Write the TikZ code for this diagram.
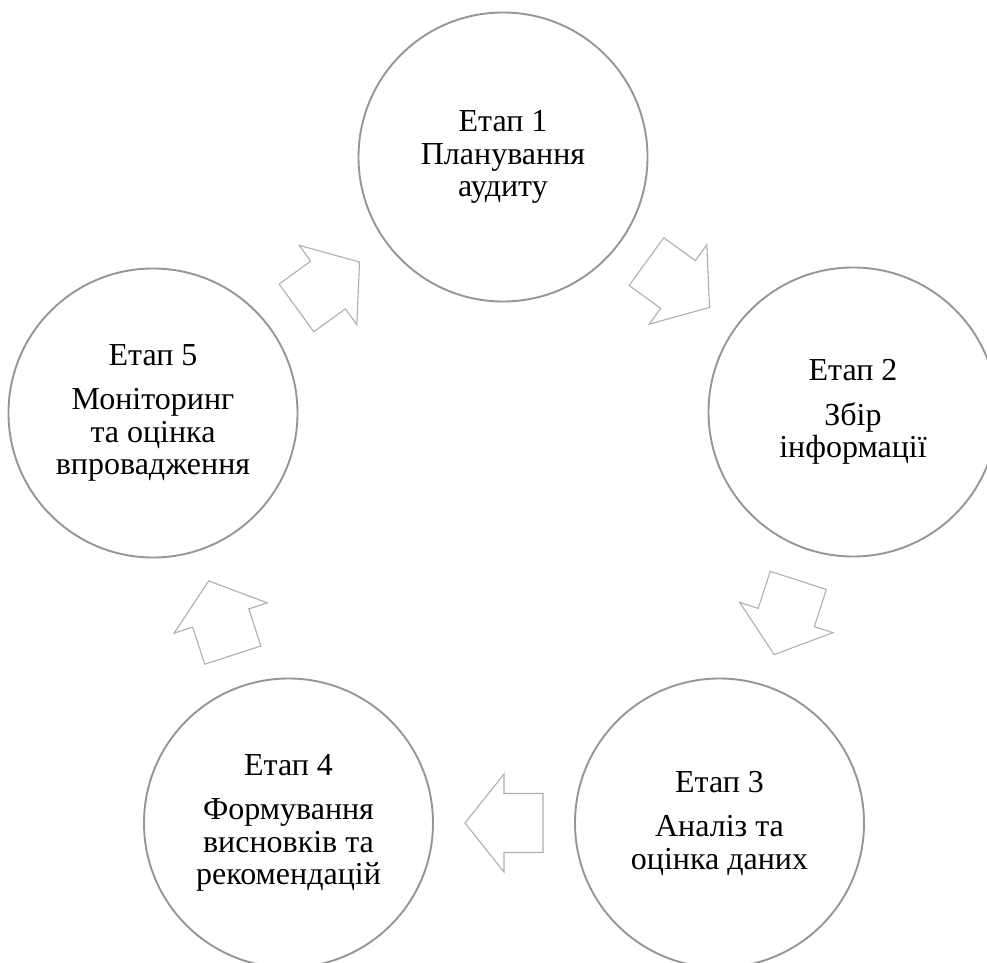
\documentclass[tikz,border=0pt]{standalone}
\usepackage{fontspec}
\setmainfont{Liberation Serif}
\usetikzlibrary{calc}
\definecolor{circgray}{RGB}{150,150,150}
\definecolor{arrgray}{RGB}{175,175,175}
\tikzset{
  stage/.style={circle, draw=circgray, line width=1.9pt, minimum size=289pt, inner sep=0pt,
    align=center, font=\fontsize{32}{32.5}\selectfont, text=black},
  cyclearrow/.style={draw=arrgray, line width=1.1pt, line join=miter, fill=white}
}
\newcommand{\blockarrow}[2]{%
  \begin{scope}[shift={(#1)}, rotate=#2]
    \draw[cyclearrow] (-39,29.5) -- (0,29.5) -- (0,49) -- (39,0) -- (0,-49) -- (0,-29.5) -- (-39,-29.5) -- cycle;
  \end{scope}}
\begin{document}
\begin{tikzpicture}[x=1pt,y=1pt]
  \useasboundingbox (0,0) rectangle (987,962);
  \clip (0,0) rectangle (987,962);
  \node[stage] (c1) at (503,805) {Етап 1\\Планування\\аудиту};
  \node[stage] (c2) at (853,550) {Етап 2\\[12pt]Збір\\інформації};
  \node[stage] (c3) at (719.5,139) {Етап 3\\[12pt]Аналіз та\\оцінка даних};
  \node[stage] (c4) at (288.5,139) {Етап 4\\[12pt]Формування\\висновків та\\рекомендацій};
  \node[stage] (c5) at (153,549) {Етап 5\\[12pt]Моніторинг\\та оцінка\\впровадження};
  \coordinate (m12) at ($(c1)!0.5!(c2)$);
  \coordinate (m23) at ($(c2)!0.5!(c3)$);
  \coordinate (m34) at ($(c3)!0.5!(c4)$);
  \coordinate (m45) at ($(c4)!0.5!(c5)$);
  \coordinate (m51) at ($(c5)!0.5!(c1)$);
  \blockarrow{m12}{-36}
  \blockarrow{m23}{-108}
  \blockarrow{m34}{180}
  \blockarrow{m45}{108}
  \blockarrow{m51}{36}
\end{tikzpicture}
\end{document}
